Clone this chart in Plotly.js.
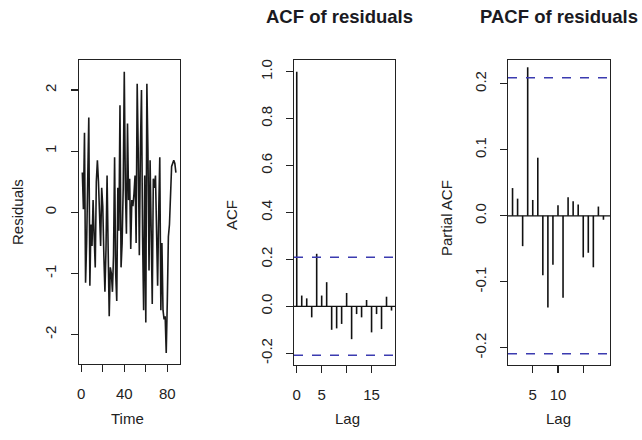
<!DOCTYPE html>
<html><head><meta charset="utf-8">
<script src="https://cdn.plot.ly/plotly-3.0.1.min.js"></script>
<style>html,body{margin:0;padding:0;background:#fff}#chart{width:642px;height:440px}</style>
</head><body><div id="chart"></div>
<script>
// Residual time series (t = 1..88)
const residuals = [0.65,0.05,1.3,-1.15,-0.5,0.45,1.55,-1.2,-0.2,-0.55,
  0.2,-0.4,-0.9,0.5,0.85,0.5,-0.1,-0.55,0.4,0.1,
  -0.7,-1.3,-0.6,0.6,-0.6,-1.7,-0.9,-1.0,-1.3,-0.7,
  0.9,-1.0,-1.45,0.4,-0.3,1.75,-0.9,-0.5,0.4,2.3,
  0.4,-0.35,1.45,0.2,0.55,-0.6,0.2,0.1,0.3,0.6,
  -0.5,2.1,0.95,-0.7,1.05,2.0,-0.4,-1.6,0.6,-1.8,
  2.1,1.0,-0.95,0.85,-0.3,-1.5,0.55,0.4,0.6,-0.4,
  -1.2,0.0,0.9,-1.6,-0.5,-1.6,-1.75,-1.7,-2.3,-1.45,
  -0.4,-0.2,0.3,0.75,0.8,0.85,0.8,0.65];
const acfLags = [0,1,2,3,4,5,6,7,8,9,10,11,12,13,14,15,16,17,18,19];
const acfValues = [1.0,0.046,0.034,-0.047,0.224,0.046,0.103,-0.1,-0.094,-0.075,
  0.057,-0.14,-0.033,-0.047,0.027,-0.111,-0.033,-0.097,0.041,-0.018];
const pacfLags = [1,2,3,4,5,6,7,8,9,10,11,12,13,14,15,16,17,18,19];
const pacfValues = [0.042,0.026,-0.046,0.225,0.024,0.088,-0.09,-0.139,-0.074,0.016,
  -0.124,0.028,0.022,0.017,-0.063,-0.056,-0.078,0.014,-0.006];
const ciLevel = 0.209;

const resTickVals = [0,20,40,60,80], resTickText = ['0','','40','','80'];
const resYTicks = [-2,-1,0,1,2], resYText = ['-2','-1','0','1','2'];
const acfXTicks = [0,5,10,15], acfXText = ['0','5','','15'];
const acfYTicks = [-0.2,0,0.2,0.4,0.6,0.8,1.0], acfYText = ['-0.2','0.0','0.2','0.4','0.6','0.8','1.0'];
const pacfXTicks = [5,10,15], pacfXText = ['5','10',''];
const pacfYTicks = [-0.2,-0.1,0,0.1,0.2], pacfYText = ['-0.2','-0.1','0.0','0.1','0.2'];

function spikes(lags, vals){
  const x=[], y=[];
  lags.forEach((l,i)=>{x.push(l,l,null); y.push(0,vals[i],null);});
  return {x,y};
}
const a = spikes(acfLags, acfValues), p = spikes(pacfLags, pacfValues);
const FONT = 'Liberation Sans, Arial, sans-serif';

const traces = [
  {x: residuals.map((v,i)=>i+1), y: residuals, type:'scatter', mode:'lines',
   line:{color:'#1a1a1a', width:1.6}, xaxis:'x', yaxis:'y', hoverinfo:'skip'},
  {x: a.x, y: a.y, type:'scatter', mode:'lines', line:{color:'#111', width:1.6},
   xaxis:'x2', yaxis:'y2', hoverinfo:'skip'},
  {x: p.x, y: p.y, type:'scatter', mode:'lines', line:{color:'#111', width:1.6},
   xaxis:'x3', yaxis:'y3', hoverinfo:'skip'}
];

function ax(extra){
  return Object.assign({showline:true, mirror:true, linecolor:'#222', linewidth:1.3,
    showgrid:false, zeroline:false, ticks:'outside', ticklen:7, tickwidth:1.3, tickcolor:'#222',
    tickmode:'array', tickfont:{family:FONT, size:15, color:'#222'}, fixedrange:true}, extra);
}
const yd = [0.1705, 0.8636];
const layout = {
  width:642, height:440, showlegend:false,
  paper_bgcolor:'#fff', plot_bgcolor:'#fff',
  margin:{l:0,r:0,t:0,b:0},
  font:{family:FONT, color:'#222'},
  xaxis: ax({domain:[79/642,180/642], range:[-2.1,91.8], tickvals:resTickVals, ticktext:resTickText, anchor:'y', ticklabelstandoff:9}),
  yaxis: ax({domain:[0.1727,0.8636], range:[-2.48,2.49], tickvals:resYTicks, ticktext:resYText, tickangle:-90, anchor:'x', ticklabelstandoff:9}),
  xaxis2: ax({domain:[294/642,395/642], range:[-0.55,19.7], tickvals:acfXTicks, ticktext:acfXText, anchor:'y2', ticklabelstandoff:9}),
  yaxis2: ax({domain:yd, range:[-0.25,1.05], tickvals:acfYTicks, ticktext:acfYText, tickangle:-90, anchor:'x2', ticklabelstandoff:8}),
  xaxis3: ax({domain:[508/642,610/642], range:[0.1,20.3], tickvals:pacfXTicks, ticktext:pacfXText, anchor:'y3', ticklabelstandoff:9}),
  yaxis3: ax({domain:yd, range:[-0.226,0.236], tickvals:pacfYTicks, ticktext:pacfYText, tickangle:-90, anchor:'x3', ticklabelstandoff:8}),
  shapes: [
    {type:'line', xref:'x2 domain', yref:'y2', x0:0, x1:1, y0:0, y1:0, line:{color:'#111', width:1.3}},
    {type:'line', xref:'x2 domain', yref:'y2', x0:0, x1:1, y0:ciLevel, y1:ciLevel, line:{color:'#3b3bb0', width:1.5, dash:'dash'}},
    {type:'line', xref:'x2 domain', yref:'y2', x0:0, x1:1, y0:-ciLevel, y1:-ciLevel, line:{color:'#3b3bb0', width:1.5, dash:'dash'}},
    {type:'line', xref:'x3 domain', yref:'y3', x0:0, x1:1, y0:0, y1:0, line:{color:'#111', width:1.3}},
    {type:'line', xref:'x3 domain', yref:'y3', x0:0, x1:1, y0:ciLevel, y1:ciLevel, line:{color:'#3b3bb0', width:1.5, dash:'dash'}},
    {type:'line', xref:'x3 domain', yref:'y3', x0:0, x1:1, y0:-ciLevel, y1:-ciLevel, line:{color:'#3b3bb0', width:1.5, dash:'dash'}}
  ],
  annotations: [
    {text:'<b>ACF of residuals</b>', xref:'paper', yref:'paper', x:339/642, y:1-17/440, showarrow:false, xanchor:'center', yanchor:'middle', font:{family:FONT, size:18.5, color:'#1a1a22'}},
    {text:'<b>PACF of residuals</b>', xref:'paper', yref:'paper', x:559/642, y:1-17/440, showarrow:false, xanchor:'center', yanchor:'middle', font:{family:FONT, size:18.5, color:'#1a1a22'}},
    {text:'Residuals', xref:'paper', yref:'paper', x:17/642, y:1-212/440, textangle:-90, showarrow:false, xanchor:'center', yanchor:'middle', font:{family:FONT, size:15, color:'#222'}},
    {text:'Time', xref:'paper', yref:'paper', x:127/642, y:1-418/440, showarrow:false, xanchor:'center', yanchor:'middle', font:{family:FONT, size:15, color:'#222'}},
    {text:'ACF', xref:'paper', yref:'paper', x:231/642, y:1-215/440, textangle:-90, showarrow:false, xanchor:'center', yanchor:'middle', font:{family:FONT, size:15, color:'#222'}},
    {text:'Lag', xref:'paper', yref:'paper', x:347/642, y:1-418/440, showarrow:false, xanchor:'center', yanchor:'middle', font:{family:FONT, size:15, color:'#222'}},
    {text:'Partial ACF', xref:'paper', yref:'paper', x:446/642, y:1-218/440, textangle:-90, showarrow:false, xanchor:'center', yanchor:'middle', font:{family:FONT, size:15, color:'#222'}},
    {text:'Lag', xref:'paper', yref:'paper', x:558/642, y:1-418/440, showarrow:false, xanchor:'center', yanchor:'middle', font:{family:FONT, size:15, color:'#222'}}
  ]
};
Plotly.newPlot('chart', traces, layout, {staticPlot:true, displayModeBar:false});
</script></body></html>
